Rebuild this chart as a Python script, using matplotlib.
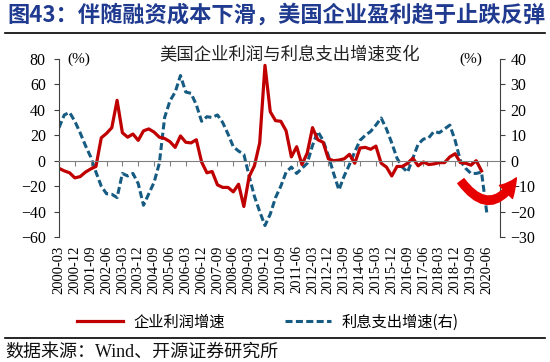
import numpy as np
import pandas as pd
import matplotlib
matplotlib.use("Agg")
from matplotlib import pyplot as plt
from matplotlib.lines import Line2D

# quarterly dates 2000-03 .. 2020-06
quarters = pd.period_range("2000Q1", "2020Q2", freq="Q")
date_labels = [f"{q.year}-{q.quarter * 3:02d}" for q in quarters]

# corporate profit growth (%), left axis, 2000-03 .. 2020-03
profit_growth = [
    -6, -8, -9.5, -13.5, -12.5, -9, -6.5, -4.5, 18, 21.5,
    26, 47.5, 22, 18.5, 21, 16, 23.5, 25, 22.5, 18.5,
    17.5, 15, 10.5, 19.5, 14.5, 14, 16.5, -1, -9.5, -8.5,
    -19, -21, -21, -24.5, -18.5, -36, -12.5, -4, 14, 75,
    38.5, 31.5, 31, 23.5, 3, 11, -3, 6, 26, 16.5,
    14.5, 1.5, 0, 0.5, 1.5, 5, -2, 10, 10.5, 9,
    11.5, -2, -5, -12, -4.5, -4.5, -2, 2, -4, -1,
    -3, -2.5, -1.5, -1.5, 3, 5.5, -1.5, -2, -3.5, 0,
    -8,
]

# interest expense growth (%), right axis, 2000-03 .. 2020-06
interest_growth = [
    13, 18, 19, 15.5, 11, 6, 1.5, -4.5, -10, -13,
    -13.2, -14.5, -5, -6, -5, -9, -17.5, -13, -8.5, -1,
    17, 23.5, 27, 33.5, 27, 26.5, 22, 15.5, 17.3, 17,
    18, 15, 10.5, 5.5, 3.8, 2.5, -6, -14, -20, -25.5,
    -21, -14.5, -10, -4.5, -2.5, -5, -3, -1, 6, 11.5,
    8, 2, -5, -11.5, -6, -1.5, 3.5, 8, 10, 11.5,
    14, 16.8, 12.5, 7, 1, -2.5, -4.5, 1, 6.5, 8.5,
    9, 11.5, 11, 12.5, 14, 8, 0, -3, -5, -5,
    -4.5, -20.5,
]

left_ticks = list(range(-60, 81, 20))
right_ticks = list(range(-30, 41, 10))

CJK = ["Noto Sans CJK SC", "DejaVu Sans"]
SERIF = ["Liberation Serif", "DejaVu Serif"]
plt.rcParams["font.family"] = SERIF

fig = plt.figure(figsize=(5.5, 3.62), dpi=100)
ax = fig.add_axes([59 / 550, 125 / 362, 441 / 550, 178 / 362])
ax2 = ax.twinx()
ax.set_zorder(ax2.get_zorder() + 1)
ax.patch.set_visible(False)

x_profit = np.arange(len(profit_growth))
x_interest = np.arange(len(interest_growth))
l1, = ax.plot(x_profit, profit_growth, color="#C00000", lw=2.3,
              label="企业利润增速")
l2, = ax2.plot(x_interest, interest_growth, color="#165B82", lw=2.2,
               ls=(0, (2.3, 1.1)), label="利息支出增速(右)")

ax.set_xlim(0, 83.5)
ax.set_ylim(-60, 80)
ax2.set_ylim(-30, 40)
ax.set_yticks(left_ticks)
ax2.set_yticks(right_ticks)
ax.set_xticks(x_interest[::3])
ax.set_xticklabels(date_labels[::3])

# zero line with ticks on the left axes, date labels on the twin
for s in ["top", "right"]:
    ax.spines[s].set_visible(False)
ax.spines["bottom"].set_position(("data", 0))
ax.spines["bottom"].set_color("#808080")
ax.spines["left"].set_color("#404040")
ax.tick_params(axis="x", labelbottom=False, direction="out", length=3.5,
               color="#808080")
ax.tick_params(axis="y", direction="out", length=3.5, color="#404040",
               labelsize=11.5, pad=6)

for s in ["top", "left", "bottom"]:
    ax2.spines[s].set_visible(False)
ax2.spines["right"].set_color("#404040")
ax2.xaxis.set_visible(True)
ax2.tick_params(axis="x", bottom=True, length=0, labelbottom=True,
                labelrotation=90, labelsize=10.5, pad=6)
ax2.tick_params(axis="y", direction="out", length=3.5, color="#404040",
                labelsize=11.5, pad=4)

ax.text(0.02, 1.0, "(%)", transform=ax.transAxes, ha="left", va="center",
        fontsize=11)
ax.text(0.959, 1.0, "(%)", transform=ax.transAxes, ha="right", va="center",
        fontsize=11)

# red rebound arrow
ax.annotate("", xy=(86.6, -13.5), xytext=(76.1, -16),
            arrowprops=dict(arrowstyle="simple,head_length=0.9,head_width=0.95,tail_width=0.4",
                            connectionstyle="arc3,rad=0.75", color="#E60000",
                            shrinkA=0, shrinkB=0, mutation_scale=14),
            annotation_clip=False)

fig.text(290 / 550, 1 - 54 / 362, "美国企业利润与利息支出增速变化",
         family=CJK, fontsize=12.5, ha="center", va="center", color="#222222")
fig.text(7 / 550, 1 - 15 / 362, "图43：伴随融资成本下滑，美国企业盈利趋于止跌反弹",
         family=CJK, fontsize=16, fontweight="bold", color="#1F3A8F",
         ha="left", va="center")
fig.add_artist(Line2D([5 / 550, 545 / 550], [1 - 33 / 362] * 2, color="black", lw=1.2))
fig.add_artist(Line2D([5 / 550, 545 / 550], [1 - 338 / 362] * 2, color="black", lw=1.2))
fig.text(5 / 550, 1 - 352 / 362, "数据来源：Wind、开源证券研究所",
         family=["Liberation Serif", "Noto Sans CJK SC"], fontsize=13,
         ha="left", va="center", color="#111111")

fig.legend([l1, l2], [l1.get_label(), l2.get_label()], loc="center",
           bbox_to_anchor=(268 / 550, 1 - 322 / 362), ncol=2, frameon=False,
           prop={"family": CJK, "size": 11}, handlelength=3,
           columnspacing=3.9, handletextpad=0.7)

fig.savefig("out.png", dpi=100)
